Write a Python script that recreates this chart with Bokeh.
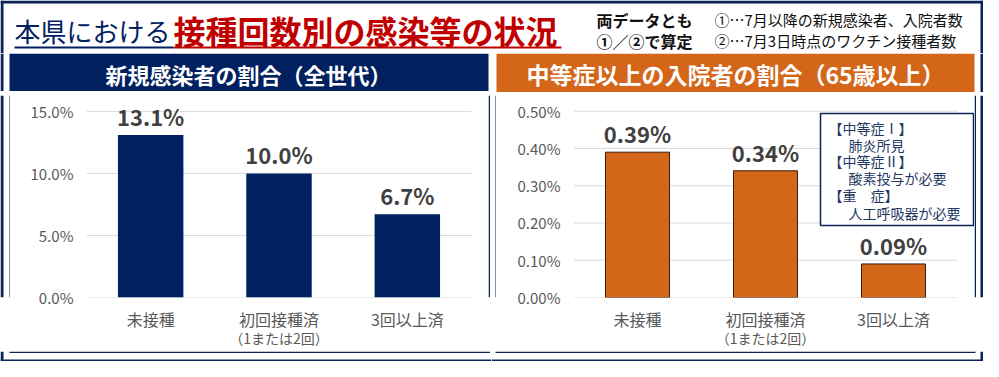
from bokeh.plotting import figure
from bokeh.models import (Range1d, FixedTicker, PrintfTickFormatter, LinearAxis,
                          BoxAnnotation, Label, ColumnDataSource)
from bokeh.layouts import column, row
from bokeh.embed import file_html
from bokeh.resources import INLINE
from bokeh.core.properties import value

# ---------------- data ----------------
categories = ["未接種", "初回接種済", "3回以上済"]
sub_labels = ["", "（1または2回）", ""]
infection_rate = [13.1, 10.0, 6.7]          # % (all ages)
hospital_rate = [0.39, 0.34, 0.09]          # % (65+, moderate or worse)
left_ticks = [0, 5, 10, 15]
right_ticks = [0.0, 0.1, 0.2, 0.3, 0.4, 0.5]

FONT = "Noto Sans CJK JP"
NAVY = "#002060"
ORANGE = "#D4661A"
RED = "#C00000"
BORDER = "#0B2458"
TW, TH = 983, 361


def deco(w, h):
    """figure whose frame is the whole canvas, y pointing down, in pixels"""
    p = figure(width=w, height=h, x_range=Range1d(0, w), y_range=Range1d(h, 0),
               output_backend="svg", toolbar_location=None, x_axis_type=None,
               y_axis_type=None, min_border=0, outline_line_color=None)
    p.grid.visible = False
    return p


def rects(p, rs, color):
    p.quad(left=[r[0] for r in rs], right=[r[1] for r in rs],
           top=[r[2] for r in rs], bottom=[r[3] for r in rs],
           fill_color=color, line_color=None)


def txt(p, x, y, s, size, color, style="normal", align="left"):
    p.text(x=[x], y=[y], text=[s], text_font=value(FONT), text_font_size=f"{size}px",
           text_color=color, text_font_style=style, text_align=align,
           text_baseline="middle")


# ---------------- page header ----------------
hdr = deco(TW, 53)
rects(hdr, [(0, TW, 0, 3), (0, 3, 0, 53), (TW - 3, TW, 0, 53)], BORDER)
txt(hdr, 14, 30, "本県における", 26, NAVY)
txt(hdr, 173, 29, "接種回数別の感染等の状況", 32, RED, "bold")
rects(hdr, [(14, 173, 46, 48)], NAVY)
rects(hdr, [(173, 561, 46, 48)], RED)
for s, y in [("両データとも", 19), ("①／②で算定", 40)]:
    txt(hdr, 596, y, s, 16, "#111111", "bold")
for s, y in [("①…7月以降の新規感染者、入院者数", 19), ("②…7月3日時点のワクチン接種者数", 40)]:
    txt(hdr, 714, y, s, 15, "#111111")


def chart(w, h, vals, ticks, fmt, span_px, extra_px, y_span_px, y_frame_px, bar_w,
          fill, bar_line, mb):
    n = len(categories)
    xs = [i + 0.5 for i in range(n)]
    p = figure(width=w, height=h, x_range=Range1d(0, n * (span_px + extra_px) / span_px),
               y_range=Range1d(0, ticks[-1] * y_frame_px / y_span_px),
               output_backend="svg", toolbar_location=None, x_axis_type=None,
               min_border_left=mb[0], min_border_right=0, min_border_top=mb[1],
               min_border_bottom=mb[2], outline_line_color=None)
    p.grid.visible = False
    # horizontal grid lines, spanning only the category area
    p.segment(x0=[0] * len(ticks), x1=[n] * len(ticks), y0=ticks, y1=ticks,
              line_color="#D9D9D9", line_width=1)
    src = ColumnDataSource(dict(x=xs, val=vals, lab=[fmt % v for v in vals]))
    p.vbar(x="x", top="val", width=bar_w, source=src, fill_color=fill,
           line_color=bar_line, line_width=1 if bar_line else 0)
    p.text(x="x", y="val", text="lab", source=src, y_offset=-19, text_align="center",
           text_baseline="middle", text_font=value(FONT), text_font_size="22px",
           text_font_style="bold", text_color="#404040")
    ya = p.yaxis[0]
    ya.ticker = FixedTicker(ticks=ticks)
    ya.formatter = PrintfTickFormatter(format=fmt)
    ya.axis_line_color = None
    ya.major_tick_line_color = None
    ya.minor_tick_line_color = None
    ya.major_label_standoff = 7
    ya.major_label_text_font = FONT
    ya.major_label_text_font_size = "15px"
    ya.major_label_text_color = "#595959"
    xa = LinearAxis(ticker=FixedTicker(ticks=xs),
                    major_label_overrides={x: c for x, c in zip(xs, categories)},
                    axis_line_color=None, major_tick_line_color=None,
                    minor_tick_line_color=None, major_label_standoff=3,
                    major_label_text_font=FONT, major_label_text_font_size="16px",
                    major_label_text_color="#595959")
    p.add_layout(xa, "below")
    sub_x = [x for x, s in zip(xs, sub_labels) if s]
    xa2 = LinearAxis(ticker=FixedTicker(ticks=sub_x),
                     major_label_overrides={x: s for x, s in zip(xs, sub_labels) if s},
                     axis_line_color=None, major_tick_line_color=None,
                     minor_tick_line_color=None, major_label_standoff=-12,
                     major_label_text_font=FONT, major_label_text_font_size="14px",
                     major_label_text_color="#595959")
    p.add_layout(xa2, "below")
    return p


# ---------------- left panel ----------------
lhead = deco(491, 38)
rects(lhead, [(0, 3, 0, 38)], BORDER)
rects(lhead, [(9, 488, 0, 38)], NAVY)
txt(lhead, 248, 20, "新規感染者の割合（全世代）", 22, "white", "bold", "center")

lstrip = deco(10, 259)
rects(lstrip, [(0, 3, 0, 259), (9, 10.5, 0, 259)], BORDER)
lchart = chart(478, 259, infection_rate, left_ticks, "%.1f%%", 385, 17, 188, 204, 0.51,
               NAVY, None, (76, 4, 51))
lrs = deco(3, 259)
rects(lrs, [(0, 1.5, 0, 259)], BORDER)
lbot = deco(491, 11)
rects(lbot, [(9, 489.5, 0, 1.5), (0, 491, 8, 11), (0, 3, 0, 11)], BORDER)

left_panel = column(lhead, row(lstrip, lchart, lrs, spacing=0), lbot, spacing=0)

# ---------------- right panel ----------------
rhead = deco(492, 39)
rects(rhead, [(489, 492, 0, 39)], BORDER)
rects(rhead, [(5, 483, 0, 39)], ORANGE)
txt(rhead, 244, 20, "中等症以上の入院者の割合（65歳以上）", 23, "white", "bold", "center")

rls = deco(5, 258)
rects(rls, [(4, 5, 0, 258)], BORDER)
rchart = chart(478, 258, hospital_rate, right_ticks, "%.2f%%", 384, 17, 190, 206, 0.5,
               ORANGE, "#3A1A08", (77, 3, 49))
rrs = deco(9, 258)
rects(rrs, [(0, 1.5, 0, 258), (6, 9, 0, 258)], BORDER)
rbot = deco(492, 11)
rects(rbot, [(4, 484, 0, 1.5), (0, 492, 8, 11), (489, 492, 0, 11)], BORDER)

# legend box inside the right chart (canvas pixels, y down)
rchart.add_layout(BoxAnnotation(left=324, right=477, top=21, bottom=133,
                                left_units="canvas", right_units="canvas",
                                top_units="canvas", bottom_units="canvas",
                                fill_color="white", fill_alpha=1.0, line_color=BORDER,
                                line_width=1.5, line_alpha=1.0, editable=False,
                                level="overlay"))
legend_lines = [("【中等症Ⅰ】", 332, 35), ("肺炎所見", 352, 52), ("【中等症Ⅱ】", 332, 68),
                ("酸素投与が必要", 352, 85), ("【重　症】", 332, 102), ("人工呼吸器が必要", 352, 120)]
for t, x, y in legend_lines:
    rchart.add_layout(Label(x=x, y=y, x_units="canvas", y_units="canvas", text=t,
                            text_font=FONT, text_font_size="14px", text_color="#1F3864",
                            text_align="left", text_baseline="middle", level="overlay"))

right_panel = column(rhead, row(rls, rchart, rrs, spacing=0), rbot, spacing=0)

layout = column(hdr, row(left_panel, right_panel, spacing=0), spacing=0)
open("out.html", "w").write(file_html(layout, INLINE))
